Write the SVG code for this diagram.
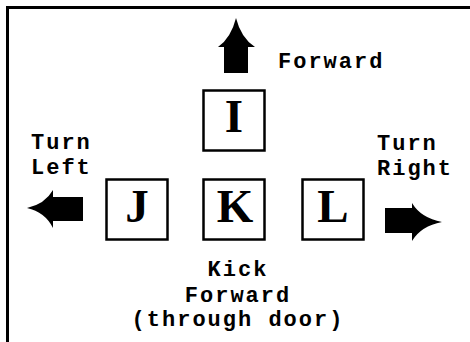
<svg xmlns="http://www.w3.org/2000/svg" width="470" height="342" viewBox="0 0 470 342">
<style>
.key{fill:#fff;stroke:#000;stroke-width:2.5}
.kl{font-family:"Liberation Serif","Times New Roman",serif;font-weight:bold;font-size:47px;text-anchor:middle;fill:#000}
.lbl{font-family:"Liberation Mono","Courier New",monospace;font-weight:bold;font-size:22px;letter-spacing:2px;fill:#000}
.mid{text-anchor:middle}
.arr{fill:#000;stroke:none}
</style>
<rect x="0" y="0" width="470" height="342" fill="#fff"/>
<path d="M7.5,342 V7.5 H470" fill="none" stroke="#000" stroke-width="3"/>
<g id="connectors">
<path class="arr" d="M236,18 Q231,38 218,47 H224 V73 H248 V47 H255 Q241,38 236,18 Z"/>
<path class="arr" d="M27,208 Q45,204 53,190 V197 H83 V221 H53 V228 Q45,212 27,208 Z"/>
<path class="arr" d="M442,222 Q421,218 412,203 V208 H385 V233 H412 V241 Q421,226 442,222 Z"/>
</g>
<g id="key-I"><rect class="key" x="203.5" y="90.5" width="61" height="60"/><text class="kl" x="234" y="132">I</text></g>
<g id="key-J"><rect class="key" x="106.5" y="179.5" width="61" height="60"/><text class="kl" x="137" y="222">J</text></g>
<g id="key-K"><rect class="key" x="203.5" y="179.5" width="61" height="60"/><text class="kl" x="235" y="222">K</text></g>
<g id="key-L"><rect class="key" x="302.5" y="179.5" width="61" height="60"/><text class="kl" x="333" y="222">L</text></g>
<g id="labels">
<text class="lbl" x="278" y="68">Forward</text>
<text class="lbl" x="31" y="149">Turn</text>
<text class="lbl" x="31" y="174">Left</text>
<text class="lbl" x="377" y="150">Turn</text>
<text class="lbl" x="377" y="175">Right</text>
<text class="lbl mid" x="238" y="276">Kick</text>
<text class="lbl mid" x="238" y="302">Forward</text>
<text class="lbl mid" x="238" y="326">(through door)</text>
</g>
</svg>
